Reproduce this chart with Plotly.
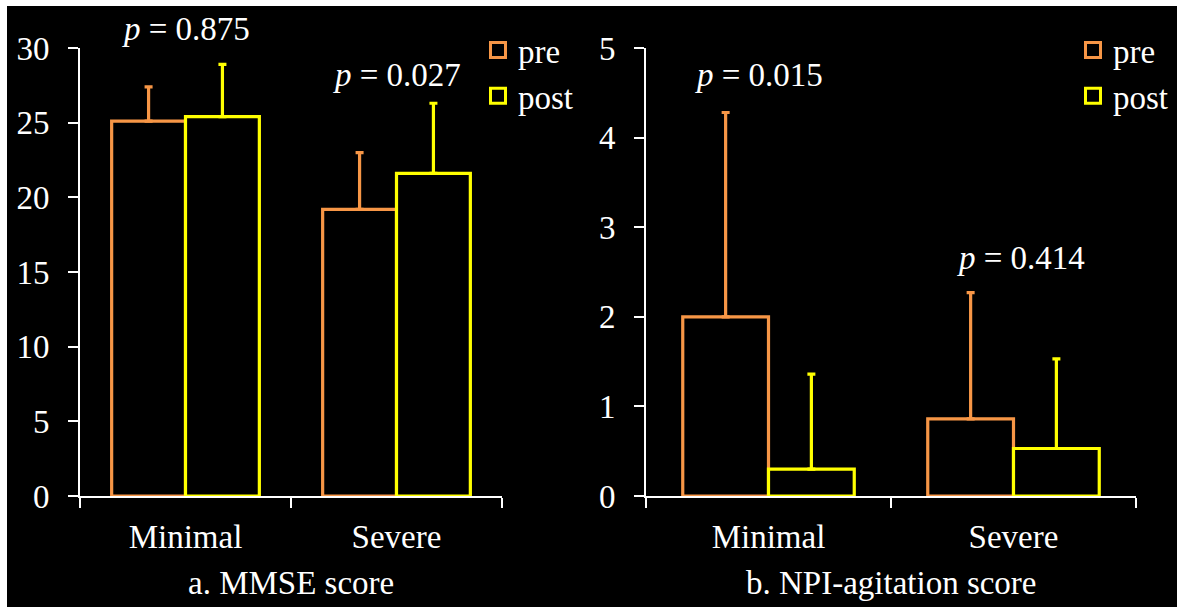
import plotly.graph_objects as go

categories = ["Minimal", "Severe"]
series_names = ["pre", "post"]

mmse_pre = [25.1, 19.2]
mmse_pre_sd = [2.3, 3.8]
mmse_post = [25.4, 21.6]
mmse_post_sd = [3.5, 4.7]

npi_pre = [2.0, 0.86]
npi_pre_sd = [2.28, 1.41]
npi_post = [0.3, 0.53]
npi_post_sd = [1.06, 1.0]

mmse_p = ["0.875", "0.027"]
mmse_p_y = [31.3, 28.2]
npi_p = ["0.015", "0.414"]
npi_p_y = [4.7, 2.66]

mmse_ticks = [0, 5, 10, 15, 20, 25, 30]
npi_ticks = [0, 1, 2, 3, 4, 5]

ORANGE = "#F79646"
YELLOW = "#FFFF00"
FONT = "Liberation Serif"
FS = 33

W, H = 1177, 607
ML, MR, MT, MB = 80, 41, 48, 111
PW = W - ML - MR
PH = H - MT - MB


def px_x(px):
    return (px - ML) / PW


def px_y(py):
    return (H - MB - py) / PH


fig = go.Figure()

def add_bar(x, y, sd, name, color, xa, ya, legend):
    fig.add_trace(go.Bar(
        x=x, y=y, name=name, xaxis=xa, yaxis=ya, showlegend=False,
        marker=dict(color="black", line=dict(color=color, width=3.2)),
        error_y=dict(type="data", array=sd, arrayminus=[0] * len(sd), symmetric=False,
                     color=color, thickness=3.2, width=4),
    ))
    # legend entry with a larger open square symbol
    fig.add_trace(go.Scatter(
        x=[None], y=[None], name=name, xaxis=xa, yaxis=ya, legend=legend, mode="markers",
        marker=dict(symbol="square", size=15, color="black", line=dict(color=color, width=3)),
    ))

add_bar(categories, mmse_pre, mmse_pre_sd, series_names[0], ORANGE, "x", "y", "legend")
add_bar(categories, mmse_post, mmse_post_sd, series_names[1], YELLOW, "x", "y", "legend")
add_bar(categories, npi_pre, npi_pre_sd, series_names[0], ORANGE, "x2", "y2", "legend2")
add_bar(categories, npi_post, npi_post_sd, series_names[1], YELLOW, "x2", "y2", "legend2")

axis_common = dict(
    showline=True, linecolor="white", linewidth=2, showgrid=False, zeroline=False,
    ticks="outside", tickcolor="white", tickwidth=2, ticklen=10,
    tickfont=dict(family=FONT, size=FS, color="white"),
)

fig.update_layout(
    width=W, height=H,
    margin=dict(l=ML, r=MR, t=MT, b=MB, autoexpand=False),
    paper_bgcolor="white", plot_bgcolor="black",
    barmode="group", bargap=0.3, bargroupgap=0,
    showlegend=True,
    font=dict(family=FONT, size=FS, color="white"),
    xaxis=dict(domain=[0, px_x(502)], anchor="y", tickson="boundaries", ticklabelstandoff=10, **axis_common),
    yaxis=dict(domain=[0, 1], anchor="x", range=[0, 30], tickvals=mmse_ticks, ticklabelstandoff=12, **axis_common),
    xaxis2=dict(domain=[px_x(646), 1], anchor="y2", tickson="boundaries", ticklabelstandoff=10, **axis_common),
    yaxis2=dict(domain=[0, 1], anchor="x2", range=[0, 5], tickvals=npi_ticks, ticklabelstandoff=12, **axis_common),
    legend=dict(x=px_x(478), y=px_y(22), xanchor="left", yanchor="top", bgcolor="rgba(0,0,0,0)",
                font=dict(family=FONT, size=FS, color="white"), itemwidth=30, tracegroupgap=0),
    legend2=dict(x=px_x(1073), y=px_y(22), xanchor="left", yanchor="top", bgcolor="rgba(0,0,0,0)",
                 font=dict(family=FONT, size=FS, color="white"), itemwidth=30, tracegroupgap=0),
)

# black background panel with white strip at top and left
fig.add_shape(type="rect", xref="paper", yref="paper", layer="below",
              x0=px_x(7), x1=px_x(W + 2), y0=px_y(H + 2), y1=px_y(6),
              fillcolor="black", line=dict(width=0))

# p-value labels (first one sits above the axis top, so anchor at top and shift)
fig.add_annotation(x=categories[0], y=30, xref="x", yref="y", text=f"<i>p</i> = {mmse_p[0]}",
                   showarrow=False, yanchor="middle", yshift=(mmse_p_y[0] - 30) * PH / 30,
                   font=dict(family=FONT, size=FS, color="white"))
fig.add_annotation(x=categories[1], y=mmse_p_y[1], xref="x", yref="y", text=f"<i>p</i> = {mmse_p[1]}",
                   showarrow=False, yanchor="middle", font=dict(family=FONT, size=FS, color="white"))
for i, c in enumerate(categories):
    fig.add_annotation(x=c, y=npi_p_y[i], xref="x2", yref="y2", text=f"<i>p</i> = {npi_p[i]}",
                       showarrow=False, yanchor="middle", font=dict(family=FONT, size=FS, color="white"),
                       xshift=-10 if i == 0 else 7)

fig.add_annotation(x=(0 + px_x(502)) / 2, y=px_y(583), xref="paper", yref="paper",
                   xanchor="center", yanchor="middle",
                   text="a. MMSE score", showarrow=False, font=dict(family=FONT, size=FS, color="white"))
fig.add_annotation(x=(px_x(646) + 1) / 2, y=px_y(583), xref="paper", yref="paper",
                   xanchor="center", yanchor="middle",
                   text="b. NPI-agitation score", showarrow=False, font=dict(family=FONT, size=FS, color="white"))

fig.write_html("out.html", config={"displayModeBar": False},
               post_script="document.body.style.margin='0';document.body.style.overflow='hidden';")
